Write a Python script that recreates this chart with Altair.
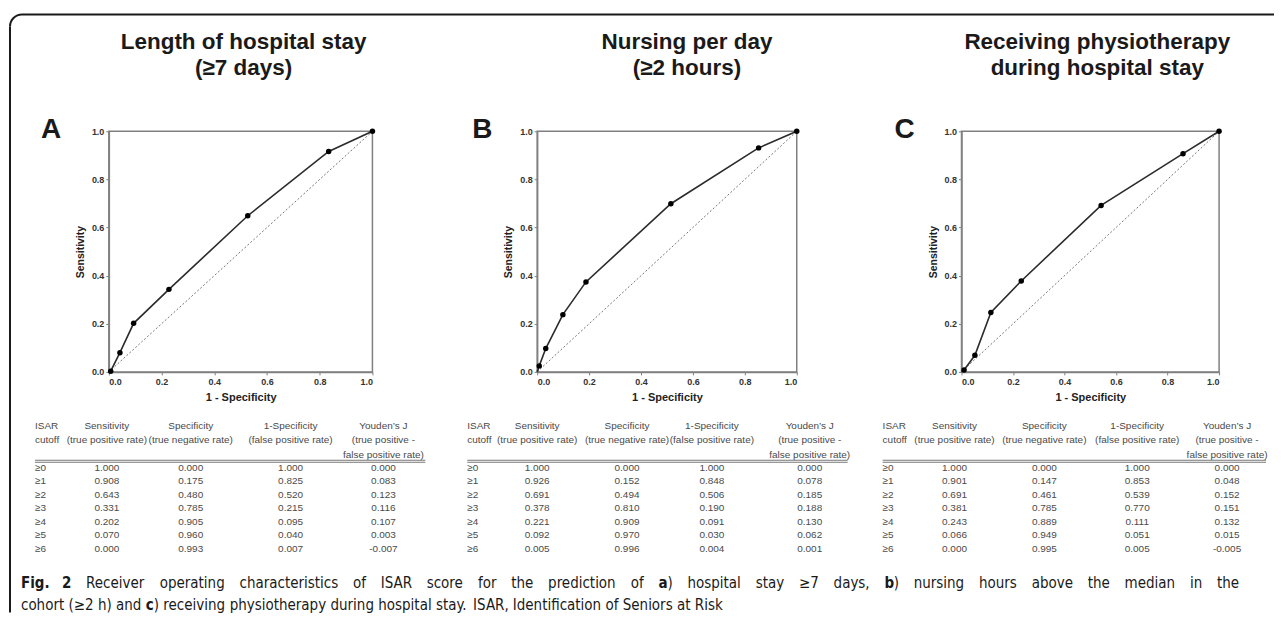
import altair as alt
import pandas as pd

# ---------------- data ----------------
cutoffs = ["≥0", "≥1", "≥2", "≥3", "≥4", "≥5", "≥6"]

title_a = ["Length of hospital stay", "(≥7 days)"]
title_b = ["Nursing per day", "(≥2 hours)"]
title_c = ["Receiving physiotherapy", "during hospital stay"]

# ROC curves as drawn: 1 - specificity (x) and sensitivity (y), starting at the origin
roc_fpr_a = [0.0, 0.007, 0.042, 0.094, 0.228, 0.527, 0.834, 1.0]
roc_tpr_a = [0.0, 0.003, 0.080, 0.202, 0.343, 0.649, 0.916, 1.0]
roc_fpr_b = [0.0, 0.008, 0.033, 0.099, 0.188, 0.515, 0.853, 1.0]
roc_tpr_b = [0.0, 0.025, 0.097, 0.238, 0.374, 0.699, 0.931, 1.0]
roc_fpr_c = [0.0, 0.010, 0.052, 0.114, 0.232, 0.542, 0.860, 1.0]
roc_tpr_c = [0.0, 0.008, 0.069, 0.247, 0.378, 0.692, 0.907, 1.0]

# tables
sens_a = [1.000, 0.908, 0.643, 0.331, 0.202, 0.070, 0.000]
spec_a = [0.000, 0.175, 0.480, 0.785, 0.905, 0.960, 0.993]
omsp_a = [1.000, 0.825, 0.520, 0.215, 0.095, 0.040, 0.007]
youd_a = [0.000, 0.083, 0.123, 0.116, 0.107, 0.003, -0.007]

sens_b = [1.000, 0.926, 0.691, 0.378, 0.221, 0.092, 0.005]
spec_b = [0.000, 0.152, 0.494, 0.810, 0.909, 0.970, 0.996]
omsp_b = [1.000, 0.848, 0.506, 0.190, 0.091, 0.030, 0.004]
youd_b = [0.000, 0.078, 0.185, 0.188, 0.130, 0.062, 0.001]

sens_c = [1.000, 0.901, 0.691, 0.381, 0.243, 0.066, 0.000]
spec_c = [0.000, 0.147, 0.461, 0.785, 0.889, 0.949, 0.995]
omsp_c = [1.000, 0.853, 0.539, 0.770, 0.111, 0.051, 0.005]
youd_c = [0.000, 0.048, 0.152, 0.151, 0.132, 0.015, -0.005]

header_labels = [
    "ISAR\ncutoff",
    "Sensitivity\n(true positive rate)",
    "Specificity\n(true negative rate)",
    "1-Specificity\n(false positive rate)",
    "Youden\u2019s J\n(true positive -\nfalse positive rate)",
]

axis_ticks = [0.0, 0.2, 0.4, 0.6, 0.8, 1.0]
x_title = "1 - Specificity"
y_title = "Sensitivity"

# caption: (text, bold) segments per line
caption_line1 = [
    ("Fig. 2", True),
    (" Receiver operating characteristics of ISAR score for the prediction of ", False),
    ("a", True),
    (") hospital stay \u22657 days, ", False),
    ("b", True),
    (") nursing hours above the median in the", False),
]
caption_line2 = [
    ("cohort (\u22652 h) and ", False),
    ("c", True),
    (") receiving physiotherapy during hospital stay. ISAR, Identification of Seniors at Risk", False),
]

FONT = "Liberation Sans"
CAPFONT = "DejaVu Sans Condensed"
TXT_COLOR = "#4a4a4a"

# approximate advance widths (em) of DejaVu Sans, used to lay out the justified caption
_CW = {" ": .318, ".": .318, ",": .318, "(": .390, ")": .390, "-": .361, "\u2265": .838}
_CW.update({d: .636 for d in "0123456789"})
_CW.update(dict(zip("abcdefghijklmnopqrstuvwxyz",
                    [.613, .635, .550, .635, .615, .352, .635, .634, .278, .278, .579, .278,
                     .974, .634, .612, .635, .635, .411, .521, .392, .634, .592, .818, .592,
                     .592, .525])))
_CW.update(dict(zip("ABCDEFGHIJKLMNOPQRSTUVWXYZ",
                    [.684, .686, .698, .770, .632, .575, .775, .752, .295, .295, .656, .557,
                     .863, .748, .787, .603, .787, .695, .635, .611, .732, .684, .989, .685,
                     .611, .685])))


def one(text):
    return pd.DataFrame({"t": [text]})


def label(text, x, y, size, weight="normal", align="left", baseline="alphabetic",
          color="#1a1a1a", font=FONT):
    return alt.Chart(one(text)).mark_text(
        align=align, baseline=baseline, fontSize=size, fontWeight=weight,
        font=font, color=color
    ).encode(text="t:N", x=alt.value(x), y=alt.value(y))


def hrule(x1, x2, y, color, width):
    return alt.Chart(one("r")).mark_rule(color=color, strokeWidth=width).encode(
        x=alt.value(x1), x2=alt.value(x2), y=alt.value(y))


def vrule(x, y1, y2, color, width):
    return alt.Chart(one("r")).mark_rule(color=color, strokeWidth=width).encode(
        x=alt.value(x), y=alt.value(y1), y2=alt.value(y2))


def text_width(s, bold, size):
    w = sum(_CW.get(ch, 0.6) for ch in s) * 0.9 * size
    return w * (1.08 if bold else 1.0)


def caption_line(segs, x0, y, size, x1=None):
    words = [[]]
    for text, bold in segs:
        parts = text.split(" ")
        for k, p in enumerate(parts):
            if k > 0:
                words.append([])
            if p:
                words[-1].append((p, bold))
    words = [w for w in words if w]
    widths = [sum(text_width(p, b, size) for p, b in w) for w in words]
    if x1 is None:
        gap = text_width(" ", False, size)
    else:
        gap = (x1 - x0 - sum(widths)) / (len(words) - 1)
    out = []
    x = x0
    for w, ww in zip(words, widths):
        px = x
        for p, b in w:
            out.append(label(p, px, y, size, "bold" if b else "normal", font=CAPFONT))
            px += text_width(p, b, size)
        x += ww + gap
    return out


def panel(letter, title, fpr, tpr, sens, spec, omsp, youd, width, geo, extra=None):
    roc_df = pd.DataFrame({"fpr": fpr, "tpr": tpr})
    xs = alt.Scale(domain=[0, 1], nice=False, zero=False)
    ys = alt.Scale(domain=[0, 1], nice=False, zero=False)
    xax = alt.Axis(values=axis_ticks, format=".1f", title=x_title, titleFontSize=11,
                   titlePadding=5, labelPadding=3)
    yax = alt.Axis(values=axis_ticks, format=".1f", title=y_title, titleFontSize=10.5,
                   titlePadding=6, labelPadding=2)
    diag = alt.Chart(pd.DataFrame({"fpr": [0.0, 1.0], "tpr": [0.0, 1.0]})).mark_line(
        color="#777777", strokeWidth=1, strokeDash=[2, 2]
    ).encode(x=alt.X("fpr:Q", scale=xs, axis=xax), y=alt.Y("tpr:Q", scale=ys, axis=yax))
    base = alt.Chart(roc_df).encode(
        x=alt.X("fpr:Q", scale=xs, axis=xax), y=alt.Y("tpr:Q", scale=ys, axis=yax))
    line = base.mark_line(color="#2b2b2b", strokeWidth=1.6)
    pts = base.mark_point(filled=True, color="#000000", size=30, opacity=1).transform_filter(
        "datum.fpr > 0")
    roc = alt.layer(diag, line, pts)

    # table
    rows = []
    for i, c in enumerate(cutoffs):
        rows.append({"row": c, "ci": 0, "label": c})
        for j, v in enumerate([sens[i], spec[i], omsp[i], youd[i]]):
            rows.append({"row": c, "ci": j + 1, "label": f"{v:.3f}"})
    tab_df = pd.DataFrame(rows)
    head_df = pd.DataFrame({"ci": list(range(5)), "label": header_labels})
    tx = alt.Scale(domain=[0, 1, 2, 3, 4], range=geo["cols"], zero=False, nice=False)
    ty = alt.Scale(type="point", domain=cutoffs, range=[337, 418], padding=0)
    tstyle = dict(fontSize=10, font=FONT, color=TXT_COLOR)
    h0 = alt.Chart(head_df).transform_filter("datum.ci == 0").mark_text(
        align="left", baseline="top", lineBreak="\n", lineHeight=14.5, **tstyle
    ).encode(x=alt.X("ci:Q", scale=tx, axis=None), y=alt.value(290), text="label:N")
    h1 = alt.Chart(head_df).transform_filter("datum.ci > 0").mark_text(
        align="center", baseline="top", lineBreak="\n", lineHeight=14.5, **tstyle
    ).encode(x=alt.X("ci:Q", scale=tx, axis=None), y=alt.value(290), text="label:N")
    r0 = alt.Chart(tab_df).transform_filter("datum.ci == 0").mark_text(
        align="left", baseline="middle", **tstyle
    ).encode(x=alt.X("ci:Q", scale=tx, axis=None),
             y=alt.Y("row:N", scale=ty, axis=None), text="label:N")
    r1 = alt.Chart(tab_df).transform_filter("datum.ci > 0").mark_text(
        align="center", baseline="middle", **tstyle
    ).encode(x=alt.X("ci:Q", scale=tx, axis=None),
             y=alt.Y("row:N", scale=ty, axis=None), text="label:N")
    table = alt.layer(h0, h1, r0, r1)

    rl1 = hrule(geo["cols"][0], geo["tend"], 329.5, "#777777", 1)
    rl2 = hrule(geo["cols"][0], geo["tend"], 331.5, "#777777", 1)

    t1 = label(title[0], geo["tx"], -82, 22.5, "bold", "center")
    t2 = label(title[1], geo["tx"], -56, 22.5, "bold", "center")
    let = label(letter, geo["lx"], 7, 28, "bold", "left")

    layers = [roc, table, rl1, rl2, t1, t2, let]
    if extra:
        layers += extra
    return alt.layer(*layers).resolve_scale(x="independent", y="independent").properties(
        width=width, height=241)


# ---- border and caption (relative to panel A plot origin at abs (108,130)) ----
OX, OY = 108, 130
border = [
    hrule(21 - OX, 1275 - OX, 13 - OY, "#1a1a1a", 2),
    vrule(9 - OX, 25 - OY, 612 - OY, "#1a1a1a", 2),
    alt.Chart(one("arc")).mark_arc(color="#1a1a1a").encode(
        x=alt.value(21 - OX), y=alt.value(25 - OY),
        theta=alt.value(4.712389), theta2=alt.value(6.283185),
        radius=alt.value(13), radius2=alt.value(11)),
]
CS = 15
caption = (caption_line(caption_line1, 20 - OX, 587 - OY, CS, x1=1240 - OX)
           + caption_line(caption_line2, 20 - OX, 609 - OY, CS))

pA = panel("A", title_a, roc_fpr_a, roc_tpr_a, sens_a, spec_a, omsp_a, youd_a, 264,
           {"cols": [-74, -2, 82, 182, 275], "tend": 317, "tx": 135, "lx": -68},
           extra=border + caption)
pB = panel("B", title_b, roc_fpr_b, roc_tpr_b, sens_b, spec_b, omsp_b, youd_b, 260,
           {"cols": [-70, 0, 90, 175, 273], "tend": 311, "tx": 150, "lx": -65})
pC = panel("C", title_c, roc_fpr_c, roc_tpr_c, sens_c, spec_c, omsp_c, youd_c, 258,
           {"cols": [-79, -7, 83, 176, 266], "tend": 305, "tx": 136, "lx": -67})

chart = alt.hconcat(pA, pB, pC, spacing=165, bounds="flush").properties(
    padding={"left": 0, "top": 4, "right": 0, "bottom": 0},
    background="white",
).configure_view(
    stroke="#808080", strokeWidth=1.5
).configure_axis(
    grid=False, domainColor="#808080", domainWidth=1.5, tickColor="#808080",
    tickSize=3, tickWidth=1, labelFont=FONT, labelFontSize=9, labelFontWeight="bold",
    labelColor="#333333", titleFont=FONT, titleFontWeight="bold", titleColor="#222222",
)

chart.save("out.html", embed_options={"renderer": "svg", "actions": False})
